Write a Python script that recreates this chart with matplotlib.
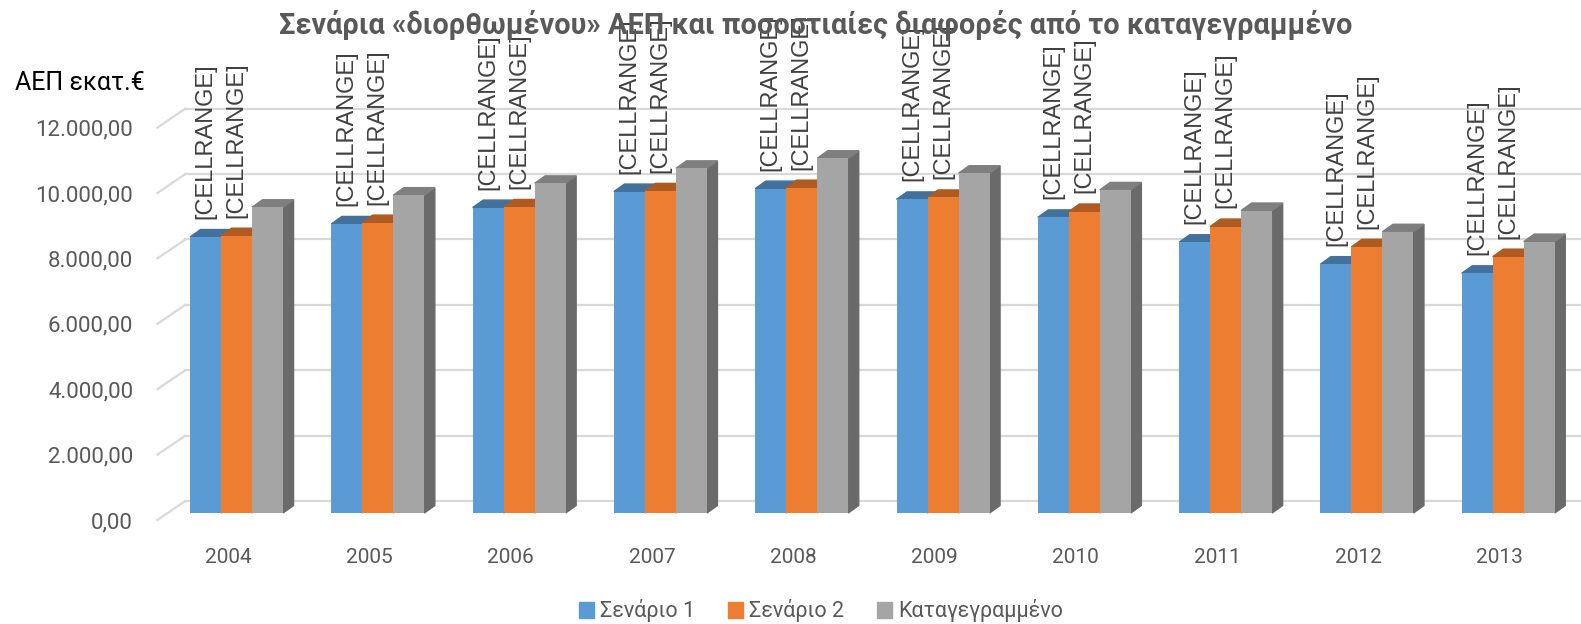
import matplotlib
matplotlib.use('Agg')
import numpy as np
import matplotlib.pyplot as plt
from matplotlib.patches import Polygon, Patch
from matplotlib.transforms import ScaledTranslation

plt.rcParams['font.family'] = ['Roboto', 'DejaVu Sans']

years = ['2004', '2005', '2006', '2007', '2008', '2009', '2010', '2011', '2012', '2013']
scenario1 = [8440, 8840, 9340, 9830, 9920, 9590, 9040, 8280, 7610, 7330]
scenario2 = [8480, 8880, 9360, 9850, 9950, 9650, 9220, 8760, 8140, 7840]
recorded = [9350, 9720, 10080, 10540, 10850, 10390, 9880, 9250, 8600, 8300]
series_names = ['Σενάριο 1', 'Σενάριο 2', 'Καταγεγραμμένο']
yticks = [0, 2000, 4000, 6000, 8000, 10000, 12000]

front_cols = ['#5B9BD5', '#ED7D31', '#A5A5A5']
top_cols = ['#41719C', '#AE5A21', '#7F7F7F']
side_cols = ['#3F6E99', '#A9531D', '#6A6A6A']

W, H = 1581, 624
fig = plt.figure(figsize=(W / 100, H / 100), dpi=100)
# axes: front plane from x=157 to 1570 px, y=0 at 513 px, 32.7 px per 1000
ax = fig.add_axes([157.4 / W, (H - 513) / H, 1413 / W, 425.1 / H])
ax.set_xlim(-0.5, 9.5)
ax.set_ylim(0, 13000)
for s in ax.spines.values():
    s.set_visible(False)

px = 10 / 1413        # data x per pixel
py = 13000 / 425.1    # data y per pixel

# back wall gridlines + diagonal connectors to the front plane
for v in yticks:
    ax.plot([-0.5 + 28 * px, 9.8], [v + 12 * py, v + 12 * py], color='#D9D9D9',
            lw=1.6, zorder=0, clip_on=False)
    ax.plot([-0.5, -0.5 + 28 * px], [v - 7 * py, v + 12 * py], color='#D9D9D9',
            lw=1.6, zorder=0, clip_on=False)

x = np.arange(len(years))
w = 31 * px
dx, dy = 10.5 * px, 7.5 * py
data = [scenario1, scenario2, recorded]

for k, vals in enumerate(data):
    left = x - 1.5 * w + 8.5 * px + k * w
    ax.bar(left, vals, width=w, align='edge', color=front_cols[k],
           zorder=3 * k + 3, clip_on=False)
    for xl, v in zip(left, vals):
        ax.add_patch(Polygon([(xl, v), (xl + w, v), (xl + w + dx, v + dy), (xl + dx, v + dy)],
                             closed=True, color=top_cols[k], zorder=3 * k + 2, clip_on=False))
        ax.add_patch(Polygon([(xl + w, 0), (xl + w + dx, dy), (xl + w + dx, v + dy), (xl + w, v)],
                             closed=True, color=side_cols[k], zorder=3 * k + 1, clip_on=False))
        if k < 2:
            ax.annotate('[CELLRANGE]', xy=(xl + w / 2, v), xytext=(0, 13),
                        textcoords='offset points', rotation=90, ha='center', va='bottom',
                        fontsize=17, family=['Liberation Sans', 'DejaVu Sans'],
                        color='#404040', annotation_clip=False, zorder=20)

# ticks
ax.set_xticks(x)
ax.set_xticklabels(years)
ax.set_yticks(yticks)
ax.set_yticklabels([f'{v:,.2f}'.replace(',', '#').replace('.', ',').replace('#', '.') for v in yticks])
ax.tick_params(axis='x', length=0, pad=25, labelsize=15, labelcolor='#595959')
ax.tick_params(axis='y', length=0, pad=17.5, labelsize=16, labelcolor='#595959')
shift = ScaledTranslation(0, -7 / 100, fig.dpi_scale_trans)
for lab in ax.get_yticklabels():
    lab.set_transform(lab.get_transform() + shift)

fig.text(15 / W, 1 - 83 / H, 'ΑΕΠ εκατ.€', ha='left', va='center', fontsize=18, color='black')
fig.text(816 / W, 1 - 25 / H,
         'Σενάρια «διορθωμένου» ΑΕΠ και ποσοστιαίες διαφορές από το καταγεγραμμένο',
         ha='center', va='center', fontsize=20.8, fontweight='bold', color='#595959', zorder=30)

handles = [Patch(color=c) for c in front_cols]
fig.legend(handles, series_names, loc='center', bbox_to_anchor=(821 / W, 1 - 611 / H), ncol=3,
           frameon=False, fontsize=15.5, labelcolor='#595959', handlelength=0.7,
           handleheight=0.7, handletextpad=0.3, columnspacing=1.5)

fig.savefig('out.png', dpi=100)
